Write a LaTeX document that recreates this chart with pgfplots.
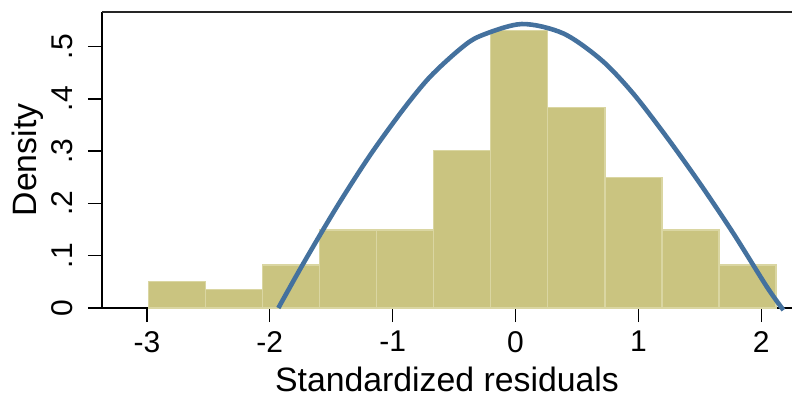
\documentclass[border=0pt]{standalone}
\usepackage{fontspec}
\setmainfont{Liberation Sans}
\usepackage{pgfplots}
\pgfplotsset{compat=1.18}
\definecolor{barfill}{RGB}{202,196,128}
\definecolor{baredge}{RGB}{218,214,162}
\definecolor{curve}{RGB}{68,113,158}
\begin{document}
\begin{tikzpicture}
\begin{axis}[
  name=ax,
  scale only axis,
  width=690pt, height=296pt,
  at={(102pt,91pt)}, anchor=south west,
  xmin=-3.365, xmax=2.25,
  ymin=0, ymax=0.566,
  axis x line*=bottom, axis y line*=left,
  x axis line style={line width=2.4pt, black},
  y axis line style={line width=1.6pt, black},
  xtick={-3,-2,-1,0,1,2},
  xticklabels={-3,-2,-1,0,1,2},
  ytick={0,0.1,0.2,0.3,0.4,0.5},
  yticklabels={0,.1,.2,.3,.4,.5},
  tick align=outside,
  major tick length=14pt,
  tick style={line width=1.5pt, black},
  ticklabel style={font=\fontsize{30}{33}\selectfont, inner sep=0pt},
  yticklabel style={xshift=-15pt, rotate=90, anchor=south},
  xticklabel style={yshift=-9pt, anchor=north},
  xlabel={Standardized residuals},
  ylabel={Density},
  label style={font=\fontsize{33.8}{37}\selectfont},
  xlabel style={at={(axis description cs:0.5,0)}, anchor=center, yshift=-71pt},
  ylabel style={at={(axis description cs:-0.1072,0.5)}, anchor=center},
  clip=false,
]
\addplot[ybar interval, fill=barfill, draw=baredge, line width=1.5pt] coordinates {
(-2.988,0.051) (-2.524,0.035) (-2.059,0.082) (-1.595,0.149) (-1.131,0.149)
(-0.666,0.301) (-0.202,0.531) (0.262,0.383) (0.727,0.250) (1.191,0.149)
(1.655,0.082) (2.119,0.082)
};
\addplot[curve, line width=4.6pt, smooth] coordinates {
(-1.930,0.000) (-1.727,0.085) (-1.455,0.193) (-1.184,0.292) (-0.913,0.380)
(-0.696,0.442) (-0.452,0.495) (-0.289,0.520) (0.050,0.543) (0.389,0.525)
(0.700,0.474) (0.958,0.410) (1.230,0.327) (1.501,0.238) (1.772,0.143)
(2.044,0.041) (2.180,-0.004)
};
\end{axis}
\draw[line width=1.6pt, black!85] (ax.north west) -- (ax.north east);
\pgfresetboundingbox
\path[use as bounding box] (0,0) rectangle (792pt,399pt);
\end{tikzpicture}
\end{document}
